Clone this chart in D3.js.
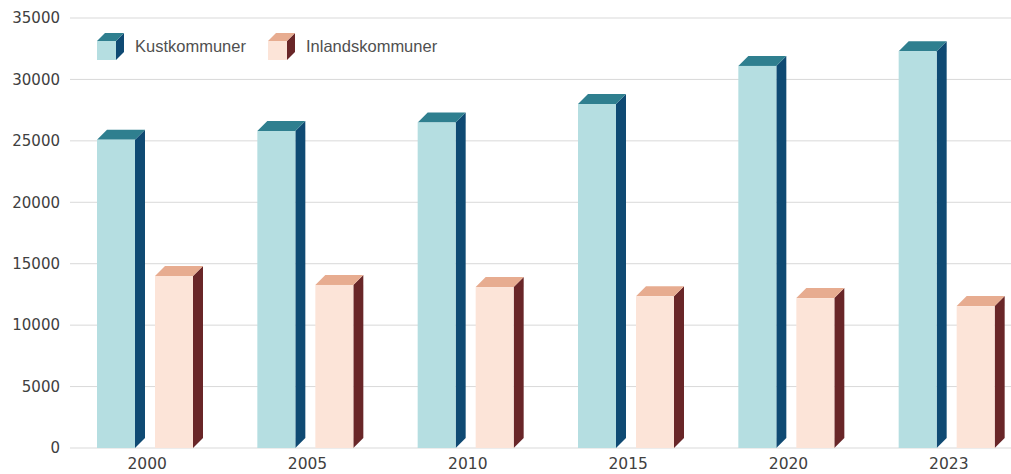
<!DOCTYPE html>
<html>
<head>
<meta charset="utf-8">
<script src="https://cdn.jsdelivr.net/npm/d3@7"></script>
<style>
  body { margin: 0; background: #fff; }
  text { font-family: "Liberation Sans", Arial, sans-serif; }
</style>
</head>
<body>
<div id="chart"></div>
<script>
'use strict';

var years = ['2000', '2005', '2010', '2015', '2020', '2023'];
var seriesNames = ['Kustkommuner', 'Inlandskommuner'];
var kust = [25100, 25800, 26500, 28000, 31100, 32300];
var inland = [14000, 13270, 13100, 12350, 12200, 11550];
var yTicks = [0, 5000, 10000, 15000, 20000, 25000, 30000, 35000];

var palette = [
  {front: '#b5dee1', side: '#0f4a73', top: '#2f7f8f'},
  {front: '#fce4d8', side: '#692628', top: '#e7ac90'}
];

var width = 1011, height = 474;
var dx = 10, dy = 10;

var svg = d3.select('#chart').append('svg')
  .attr('width', width)
  .attr('height', height);

var x = d3.scaleBand().domain(years).range([67, 1029]).padding(0);
var y = d3.scaleLinear().domain([0, 35000]).range([448, 18]);

// grid
svg.selectAll('.grid')
  .data(yTicks)
  .enter().append('line')
    .attr('class', 'grid')
    .attr('x1', 70).attr('x2', width)
    .attr('y1', function(d) { return y(d); })
    .attr('y2', function(d) { return y(d); })
    .style('stroke', '#d9d9d9')
    .style('stroke-width', 1);

svg.selectAll('.ytick')
  .data(yTicks)
  .enter().append('text')
    .attr('class', 'ytick')
    .attr('x', 60)
    .attr('y', function(d) { return y(d); })
    .attr('dy', '0.35em')
    .attr('text-anchor', 'end')
    .style('font-family', '"DejaVu Sans", sans-serif')
    .style('font-size', '15px')
    .style('fill', '#404040')
    .text(function(d) { return d; });

svg.selectAll('.xtick')
  .data(years)
  .enter().append('text')
    .attr('class', 'xtick')
    .attr('x', function(d) { return x(d) + x.bandwidth() / 2; })
    .attr('y', 469)
    .attr('text-anchor', 'middle')
    .style('font-family', '"DejaVu Sans", sans-serif')
    .style('font-size', '15.5px')
    .style('fill', '#404040')
    .text(function(d) { return d; });

// 3d bar helper
function bar3d(g, x0, y0, w, h, c) {
  g.append('path')
    .attr('d', 'M' + (x0 + w) + ',' + (y0 + h) + 'L' + (x0 + w + dx) + ',' + (y0 + h - dy) +
      'L' + (x0 + w + dx) + ',' + (y0 - dy) + 'L' + (x0 + w) + ',' + y0 + 'Z')
    .style('fill', c.side);
  g.append('path')
    .attr('d', 'M' + x0 + ',' + y0 + 'L' + (x0 + dx) + ',' + (y0 - dy) +
      'L' + (x0 + w + dx) + ',' + (y0 - dy) + 'L' + (x0 + w) + ',' + y0 + 'Z')
    .style('fill', c.top);
  g.append('rect')
    .attr('x', x0).attr('y', y0)
    .attr('width', w).attr('height', h)
    .style('fill', c.front);
}

var barW = 38, offset = 30, gap = 20;
var data = [kust, inland];

years.forEach(function(yr, i) {
  var g = svg.append('g').attr('class', 'group');
  data.forEach(function(s, k) {
    var x0 = x(yr) + offset + k * (barW + gap);
    bar3d(g, x0, y(s[i]), barW, y(0) - y(s[i]), palette[k]);
  });
});

// legend
var legend = svg.append('g').attr('class', 'legend');
var legX = [97, 268];
seriesNames.forEach(function(name, k) {
  var lg = legend.append('g');
  var sdx = dx, sdy = dy;
  dx = 8; dy = 8;
  bar3d(lg, legX[k], 41, 19, 19, palette[k]);
  dx = sdx; dy = sdy;
  lg.append('text')
    .attr('x', legX[k] + 38)
    .attr('y', 46)
    .attr('dy', '0.35em')
    .style('font-size', '16.5px')
    .style('fill', '#505050')
    .text(name);
});
</script>
</body>
</html>
